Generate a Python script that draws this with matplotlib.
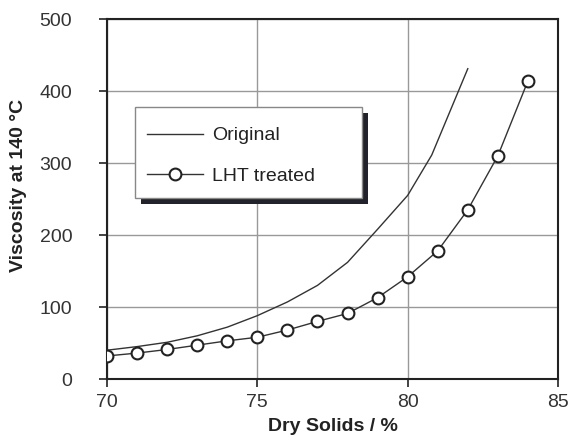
import matplotlib
matplotlib.use("Agg")
import matplotlib.pyplot as plt
from matplotlib.patches import Rectangle

plt.rcParams['font.family'] = ['Liberation Sans', 'DejaVu Sans']

# Data
orig_x = [70, 71, 72, 73, 74, 75, 76, 77, 78, 79, 80, 80.8, 82]
orig_y = [40, 45, 51, 60, 72, 88, 107, 130, 162, 208, 255, 311, 431]

lht_x = [70, 71, 72, 73, 74, 75, 76, 77, 78, 79, 80, 81, 82, 83, 84]
lht_y = [32, 36, 41, 47, 53, 58, 68, 80, 91, 113, 142, 178, 235, 310, 414]

xticks = [70, 75, 80, 85]
yticks = [0, 100, 200, 300, 400, 500]

W, H = 569, 441
fig = plt.figure(figsize=(W / 100, H / 100), dpi=100)
L, R, T, B = 107, 558, 19, 379
ax = fig.add_axes([L / W, 1 - B / H, (R - L) / W, (B - T) / H])

line_col = '#333333'
ax.plot(orig_x, orig_y, color=line_col, lw=1.0, label='Original', zorder=3)
ax.plot(lht_x, lht_y, color=line_col, lw=1.0, marker='o', ms=8.5,
        mfc='white', mec='#222222', mew=1.5, label='LHT treated', zorder=4)

ax.set_xlim(70, 85)
ax.set_ylim(0, 500)
ax.set_xticks(xticks)
ax.set_yticks(yticks)
ax.grid(True, color='#999999', lw=1.0, zorder=0)
ax.set_axisbelow(True)
for s in ax.spines.values():
    s.set_linewidth(1.5)
    s.set_color('#222222')
ax.tick_params(axis='both', direction='out', length=6, width=1.2,
               colors='#222222', labelsize=14, labelcolor='#333333')
ax.tick_params(axis='y', pad=19)
ax.tick_params(axis='x', pad=5)

ax.set_xlabel('Dry Solids / %', fontsize=14, fontweight='bold',
              color='#222222', labelpad=5)
ax.set_ylabel('Viscosity at 140 °C', fontsize=14, fontweight='bold',
              color='#222222')
ax.yaxis.set_label_coords((27 - L) / (R - L), (B - 185) / (B - T))

# legend box with shadow
bx0 = (135 - L) / (R - L)
bx1 = (362 - L) / (R - L)
by1 = (B - 107) / (B - T)
by0 = (B - 198) / (B - T)
dx = 6 / (R - L)
dy = 6 / (B - T)
ax.add_patch(Rectangle((bx0 + dx, by0 - dy), bx1 - bx0, by1 - by0,
                       transform=ax.transAxes, facecolor='#22222c',
                       edgecolor='none', zorder=5))
ax.add_patch(Rectangle((bx0, by0), bx1 - bx0, by1 - by0,
                       transform=ax.transAxes, facecolor='white',
                       edgecolor='#888888', lw=1.0, zorder=6))
leg = ax.legend(loc='center left',
                bbox_to_anchor=((147 - L) / (R - L), (B - 156) / (B - T)),
                frameon=False, fontsize=14, borderpad=0, borderaxespad=0,
                handlelength=2.9, handletextpad=0.45, labelspacing=1.2)
leg.set_zorder(7)
for t in leg.get_texts():
    t.set_color('#222222')

fig.savefig('out.png', dpi=100)
